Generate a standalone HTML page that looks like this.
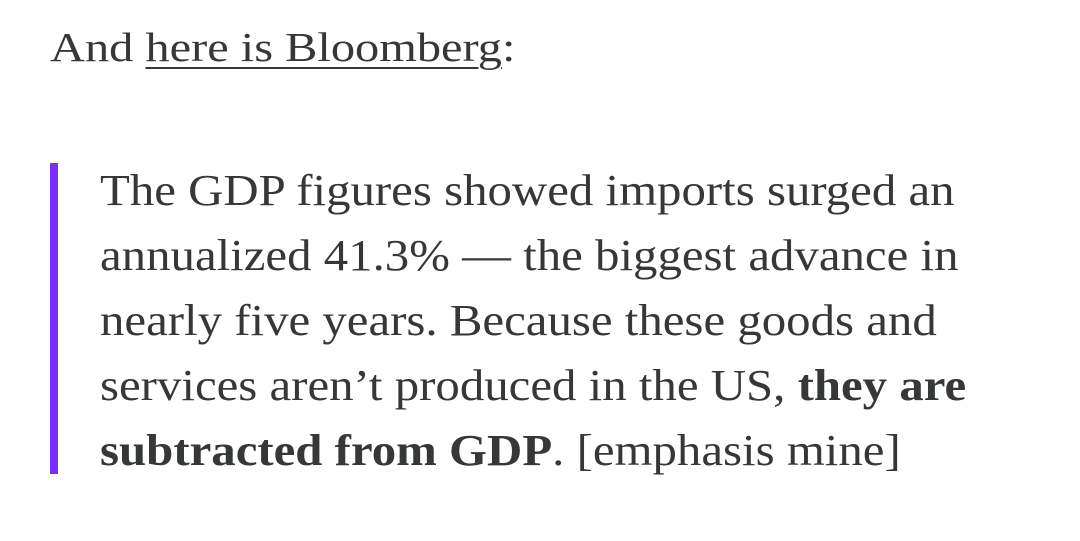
<!DOCTYPE html>
<html><head><meta charset="utf-8">
<style>
html,body{margin:0;padding:0;background:#fff;}
body{width:1080px;height:541px;overflow:hidden;position:relative;font-family:"Liberation Serif",serif;color:#363737;}
.intro{position:absolute;left:50px;top:17px;font-size:41px;line-height:60px;white-space:nowrap;transform:scaleX(1.18);transform-origin:0 0;}
.intro a{color:#363737;text-decoration:underline;text-decoration-thickness:2px;text-underline-offset:6px;}
.bar{position:absolute;left:50px;top:163px;width:8px;height:311px;background:#7b2ff0;}
.quote{position:absolute;left:100px;top:158px;font-size:44px;line-height:65px;white-space:nowrap;transform:scaleX(1.11);transform-origin:0 0;}
.quote p{margin:0;}
</style></head>
<body>
<div class="intro">And <a href="#">here is Bloomberg</a>:</div>
<div class="bar"></div>
<div class="quote">
<p>The GDP figures showed imports surged an</p>
<p>annualized 41.3% — the biggest advance in</p>
<p>nearly five years. Because these goods and</p>
<p>services aren’t produced in the US, <b>they are</b></p>
<p><b>subtracted from GDP</b>. [emphasis mine]</p>
</div>
</body></html>
